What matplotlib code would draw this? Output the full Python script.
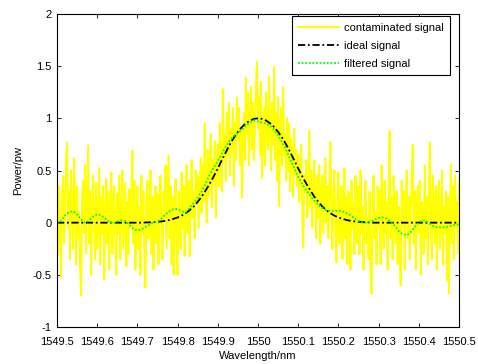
import numpy as np
import matplotlib
matplotlib.use('Agg')
import matplotlib.pyplot as plt

# contaminated signal, 0.0025 nm steps from 1549.5 to 1550.5
noisy_pw = [
  0.10, -0.30, 0.35, -0.10, -0.52, 0.25, 0.45, -0.20, 0.05, 0.60,
  0.77, -0.05, 0.30, -0.35, 0.50, 0.15, -0.25, 0.62, 0.20, -0.40,
  0.35, -0.15, 0.10, -0.45, -0.70, 0.25, 0.40, -0.10, 0.55, -0.30,
  0.20, 0.74, -0.20, 0.30, -0.50, 0.15, 0.45, -0.05, -0.35, 0.38,
  -0.25, 0.10, 0.52, -0.40, 0.25, -0.10, 0.35, -0.55, 0.05, 0.42,
  -0.20, 0.30, -0.45, 0.18, 0.48, -0.30, 0.10, 0.35, -0.15, -0.50,
  0.28, -0.10, 0.45, -0.35, 0.15, 0.50, -0.25, 0.05, 0.38, -0.42,
  0.20, -0.30, 0.32, -0.05, 0.25, 0.69, -0.20, 0.40, -0.45, 0.10,
  0.35, -0.25, 0.15, -0.50, 0.45, -0.10, 0.30, -0.35, -0.62, 0.20,
  0.40, -0.15, 0.05, 0.50, -0.30, 0.25, -0.45, 0.12, 0.35, -0.20,
  0.28, -0.40, 0.15, 0.45, -0.10, -0.35, 0.30, 0.05, 0.55, -0.25,
  0.18, 0.64, -0.15, 0.35, -0.40, 0.25, -0.50, 0.10, 0.42, -0.30,
  -0.50, 0.30, 0.10, -0.25, 0.48, -0.05, 0.35, -0.32, 0.20, 0.55,
  -0.10, 0.40, -0.32, 0.25, 0.60, 0.05, 0.30, -0.15, 0.50, 0.18,
  0.45, -0.05, 0.30, 0.62, 0.10, 0.55, 0.20, 0.95, 0.35, 0.00,
  0.70, 0.25, 0.50, 0.85, 0.15, 0.60, 0.40, 0.78, 0.05, 0.55,
  0.75, 0.35, 0.95, 0.55, 0.30, 1.28, 0.60, 0.85, 0.40, 1.05,
  0.65, 1.15, 0.45, 0.90, 0.70, 1.10, 0.35, 0.95, 0.60, 1.20,
  0.80, 1.10, 0.55, 0.90, 0.24, 0.75, 1.05, 0.60, 1.39, 0.85,
  1.25, 0.55, 1.00, 1.30, 0.70, 1.15, 0.60, 0.95, 1.35, 1.54,
  0.90, 1.20, 0.65, 1.35, 0.43, 0.80, 1.10, 0.55, 1.25, 0.95,
  0.70, 1.40, 0.85, 0.50, 1.15, 0.75, 1.49, 0.60, 1.05, 0.40,
  1.20, 0.16, 0.90, 1.10, 0.55, 1.30, 0.65, 0.85, 0.40, 1.00,
  0.50, 0.95, 0.30, 0.80, 0.60, 0.25, 0.90, 0.45, 0.70, 0.35,
  0.65, 0.20, 0.50, 0.75, 0.10, -0.24, 0.45, 0.30, 0.60, 0.05,
  0.40, 0.88, 0.15, 0.50, -0.05, 0.35, 0.60, 0.20, -0.15, 0.45,
  0.05, 0.55, -0.20, 0.30, 0.45, -0.10, 0.25, 0.62, 0.00, 0.35,
  -0.15, 0.40, 0.77, 0.10, -0.25, 0.30, 0.50, -0.05, -0.38, 0.20,
  0.48, -0.20, 0.15, 0.35, -0.35, 0.05, 0.52, -0.15, 0.25, -0.40,
  0.30, 0.10, -0.45, 0.40, -0.05, 0.20, -0.30, 0.45, 0.00, -0.20,
  0.35, -0.30, 0.50, -0.10, 0.15, -0.45, 0.25, 0.40, -0.20, 0.05,
  -0.35, 0.30, -0.50, -0.68, 0.20, 0.45, -0.15, 0.10, -0.40, 0.35,
  -0.05, 0.30, -0.40, 0.55, 0.05, -0.25, 0.40, -0.10, 0.20, -0.45,
  0.35, 0.88, -0.15, 0.25, -0.35, 0.45, 0.00, -0.20, 0.30, -0.40,
  0.15, -0.25, -0.60, 0.40, -0.05, 0.30, -0.45, 0.20, 0.50, -0.15,
  0.25, -0.35, 0.10, 0.45, 0.75, -0.20, 0.30, -0.45, 0.15, 0.35,
  -0.10, 0.40, -0.50, 0.20, 0.05, -0.30, 0.55, -0.15, 0.25, -0.40,
  0.30, 0.77, -0.05, -0.35, 0.45, 0.10, -0.20, 0.35, -0.45, 0.20,
  0.40, -0.25, 0.05, 0.50, -0.40, 0.15, -0.10, 0.30, -0.55, 0.25,
  -0.68, 0.10, 0.56, -0.20, 0.35, -0.35, 0.45, -0.05, 0.20, -0.30,
  0.40]
noisy_wl = np.linspace(1549.5, 1550.5, len(noisy_pw))

# ideal signal, 0.01 nm steps from 1549.7 to 1550.3 (zero outside)
ideal_half = [0.0, 0.0, 0.002, 0.003, 0.005, 0.008, 0.012, 0.018, 0.026, 0.037,
              0.05, 0.068, 0.09, 0.12, 0.155, 0.2, 0.25, 0.31, 0.375, 0.445,
              0.52, 0.6, 0.675, 0.75, 0.815, 0.87, 0.917, 0.953, 0.979, 0.995]
ideal_pw = [0.0] + ideal_half + [1.0] + ideal_half[::-1] + [0.0]
ideal_wl = [1549.5] + list(np.linspace(1549.7, 1550.3, 61)) + [1550.5]

# filtered signal, 0.01 nm steps
filt_pw = [
  -0.01, 0.02, 0.07, 0.10, 0.11, 0.08, 0.03, 0.0, 0.02, 0.06,
  0.08, 0.07, 0.04, 0.01, -0.01, 0.01, 0.025, 0.015, -0.02, -0.06,
  -0.075, -0.065, -0.04, -0.02, 0.0, 0.01, 0.04, 0.08, 0.11, 0.13,
  0.13, 0.11, 0.10, 0.14, 0.19, 0.24, 0.30, 0.38, 0.46, 0.53,
  0.59, 0.66, 0.73, 0.79, 0.83, 0.86, 0.89, 0.93, 0.96, 0.98,
  0.97, 0.96, 0.95, 0.93, 0.89, 0.84, 0.77, 0.70, 0.61, 0.52,
  0.44, 0.37, 0.31, 0.26, 0.21, 0.17, 0.14, 0.12, 0.11, 0.11,
  0.115, 0.11, 0.09, 0.07, 0.04, 0.015, 0.0, 0.0, 0.01, 0.03,
  0.045, 0.05, 0.04, 0.01, -0.03, -0.08, -0.11, -0.12, -0.09, -0.04,
  0.0, 0.025, 0.01, -0.02, -0.04, -0.045, -0.045, -0.04, -0.03, -0.02, -0.02]
filt_wl = np.linspace(1549.5, 1550.5, len(filt_pw))

xticks = [1549.5, 1549.6, 1549.7, 1549.8, 1549.9, 1550.0, 1550.1, 1550.2, 1550.3, 1550.4, 1550.5]
xlabels = ['1549.5', '1549.6', '1549.7', '1549.8', '1549.9', '1550', '1550.1', '1550.2', '1550.3', '1550.4', '1550.5']
yticks = [-1, -0.5, 0, 0.5, 1, 1.5, 2]
ylabels = ['-1', '-0.5', '0', '0.5', '1', '1.5', '2']

plt.rcParams['font.family'] = ['Liberation Sans', 'DejaVu Sans']
plt.rcParams['font.size'] = 8

fig = plt.figure(figsize=(4.78, 3.64), dpi=100)
ax = fig.add_axes([57/478, 37/364, 402/478, 313/364])

ax.plot(noisy_wl, noisy_pw, color=(1, 1, 0), lw=1.4, label='contaminated signal')
ax.plot(ideal_wl, ideal_pw, color='k', lw=1.3, ls=(0, (4, 1.5, 1, 1.5)), label='ideal signal')
ax.plot(filt_wl, filt_pw, color=(0, 1, 0), lw=1.3, ls=(0, (1, 1)), label='filtered signal')

ax.set_xlim(1549.5, 1550.5)
ax.set_ylim(-1, 2)
ax.set_xticks(xticks)
ax.set_xticklabels(xlabels)
ax.set_yticks(yticks)
ax.set_yticklabels(ylabels)
ax.tick_params(direction='in', top=True, right=True, length=3, width=0.6)
ax.tick_params(axis='x', pad=7)
ax.tick_params(axis='y', pad=4)
for s in ax.spines.values():
  s.set_linewidth(0.8)
ax.set_xlabel('Wavelength/nm', labelpad=3)
ax.set_ylabel('Power/pw', labelpad=7)

leg = ax.legend(loc='upper right', bbox_to_anchor=(0.978, 0.994), borderaxespad=0,
                fancybox=False, framealpha=1, edgecolor='k', handlelength=3.7,
                borderpad=0.6, labelspacing=0.72, handletextpad=0.4)
leg.get_frame().set_linewidth(0.8)

fig.savefig('out.png', dpi=100)
